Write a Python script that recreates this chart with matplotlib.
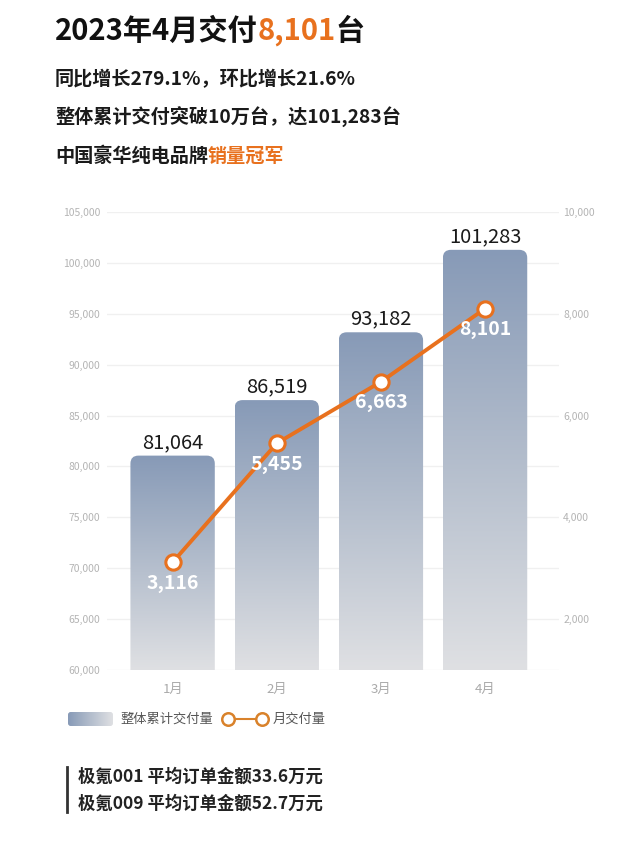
import numpy as np
import matplotlib
matplotlib.use("Agg")
import matplotlib.pyplot as plt
from matplotlib.patches import FancyBboxPatch
from matplotlib.lines import Line2D
from matplotlib.colors import LinearSegmentedColormap
from matplotlib.ticker import FuncFormatter

plt.rcParams['font.family'] = ['Noto Sans CJK SC', 'DejaVu Sans']

# --- dane z wykresu ---------------------------------------------------------
months = ["1月", "2月", "3月", "4月"]
cumulative = [81064, 86519, 93182, 101283]     # 整体累计交付量 (lewa oś)
monthly = [3116, 5455, 6663, 8101]             # 月交付量 (prawa oś)
left_ticks = [60000, 65000, 70000, 75000, 80000, 85000, 90000, 95000, 100000, 105000]
right_ticks = [2000, 4000, 6000, 8000, 10000]

ORANGE = "#e8711e"
BAR_TOP = "#879ab7"
BAR_MID = "#b3bdcc"
BAR_BOT = "#dfe0e3"
TICK_GRAY = "#b4b4b4"
GRID = "#f0f0f0"

W, H = 640, 847
fig = plt.figure(figsize=(W / 100, H / 100), dpi=100)
fig.patch.set_facecolor("white")


def fx(x):
    return x / W


def fy(y):
    return 1 - y / H


# --- nagłówek ---------------------------------------------------------------
renderer = fig.canvas.get_renderer()


def text_run(x, y, parts, size, weight):
    """Rysuje ciąg fragmentów o różnych kolorach w jednej linii."""
    for txt, color in parts:
        t = fig.text(fx(x), fy(y), txt, fontsize=size, fontweight=weight,
                     color=color, ha="left", va="center")
        bb = t.get_window_extent(renderer=renderer)
        x += bb.width


text_run(55, 31, [("2023年4月交付", "#111111"), ("8,101", ORANGE), ("台", "#111111")], 21, "bold")
text_run(55, 80, [("同比增长279.1%，环比增长21.6%", "#1a1a1a")], 13.8, "bold")
text_run(55, 117, [("整体累计交付突破10万台，达101,283台", "#1a1a1a")], 13.8, "bold")
text_run(55, 156, [("中国豪华纯电品牌", "#1a1a1a"), ("销量冠军", ORANGE)], 13.8, "bold")

# --- wykres -----------------------------------------------------------------
ax = fig.add_axes([fx(107), fy(670), (559 - 107) / W, (670 - 212) / H])
xlim = (-0.63, 3.71)
ylim = (60000, 105000)
bar_w = 0.81

cmap = LinearSegmentedColormap.from_list("bar", [BAR_BOT, BAR_MID, BAR_TOP])
grad = np.linspace(0, 1, 256).reshape(-1, 1)

ax_w_px = 452
ax_h_px = 458
x_per_px = (xlim[1] - xlim[0]) / ax_w_px
y_per_px = (ylim[1] - ylim[0]) / ax_h_px
aspect = y_per_px / x_per_px
radius = 8 * x_per_px

for i, val in enumerate(cumulative):
    x0 = i - bar_w / 2
    im = ax.imshow(grad, cmap=cmap, extent=[x0, x0 + bar_w, ylim[0], val],
                   aspect="auto", origin="lower", zorder=2, interpolation="bicubic")
    clip = FancyBboxPatch((x0, ylim[0] - 5000), bar_w, val - ylim[0] + 5000,
                          boxstyle=f"round,pad=0,rounding_size={radius}",
                          mutation_aspect=aspect, transform=ax.transData)
    im.set_clip_path(clip)
    ax.annotate(f"{val:,}", (i, val), xytext=(0, 9.5), textcoords="offset points",
                ha="center", va="center", fontsize=14.5, fontweight="medium",
                color="#1a1a1a", zorder=4)

ax.set_xlim(*xlim)
ax.set_ylim(*ylim)
ax.set_xticks(range(len(months)))
ax.set_xticklabels(months)
ax.set_yticks(left_ticks)
ax.yaxis.set_major_formatter(FuncFormatter(lambda v, _: f"{int(v):,}"))
ax.tick_params(axis="y", length=0, pad=5, labelsize=7.5, labelcolor=TICK_GRAY)
ax.tick_params(axis="x", length=0, pad=9, labelsize=9.5, labelcolor="#aaaaaa")
ax.yaxis.grid(True, color=GRID, lw=1, zorder=0)
ax.set_axisbelow(True)
for s in ax.spines.values():
    s.set_visible(False)

ax2 = ax.twinx()
ax2.set_ylim(1000, 10000)
ax2.set_yticks(right_ticks)
ax2.yaxis.set_major_formatter(FuncFormatter(lambda v, _: f"{int(v):,}"))
ax2.tick_params(axis="y", length=0, pad=3, labelsize=7.5, labelcolor=TICK_GRAY)
for s in ax2.spines.values():
    s.set_visible(False)

ax2.plot(range(len(monthly)), monthly, color=ORANGE, lw=2.8, marker="o", ms=11,
         mfc="white", mec=ORANGE, mew=2.2, zorder=5)
for i, val in enumerate(monthly):
    ax2.annotate(f"{val:,}", (i, val), xytext=(0, -15), textcoords="offset points",
                 ha="center", va="center", fontsize=14, fontweight="bold",
                 color="white", zorder=6)

# --- legenda ----------------------------------------------------------------
lax = fig.add_axes([fx(68), fy(726), 45 / W, 14 / H])
lim = lax.imshow(np.linspace(1, 0, 256).reshape(1, -1), cmap=cmap, aspect="auto",
                 extent=[0, 1, 0, 1], interpolation="bicubic")
lclip = FancyBboxPatch((0, 0), 1, 1, boxstyle="round,pad=0,rounding_size=0.06",
                       mutation_aspect=45 / 14, transform=lax.transAxes)
lim.set_clip_path(lclip)
lax.set_axis_off()
fig.text(fx(120), fy(719), "整体累计交付量", fontsize=9.5, color="#555555",
         ha="left", va="center")
fig.add_artist(Line2D([fx(228), fx(262)], [fy(719), fy(719)], color="#d9822b",
                      lw=1.5, marker="o", ms=9, mfc="white", mec="#d9822b", mew=1.8,
                      transform=fig.transFigure))
fig.text(fx(273), fy(719), "月交付量", fontsize=9.5, color="#555555",
         ha="left", va="center")

# --- dopisek na dole -------------------------------------------------------
fig.add_artist(Line2D([fx(67), fx(67)], [fy(767), fy(812)], color="#333333", lw=2,
                      transform=fig.transFigure))
fig.text(fx(78), fy(777), "极氪001 平均订单金额33.6万元", fontsize=12.5,
         fontweight="bold", color="#222222", ha="left", va="center")
fig.text(fx(78), fy(804), "极氪009 平均订单金额52.7万元", fontsize=12.5,
         fontweight="bold", color="#222222", ha="left", va="center")

fig.savefig("out.png", dpi=100, facecolor="white")
